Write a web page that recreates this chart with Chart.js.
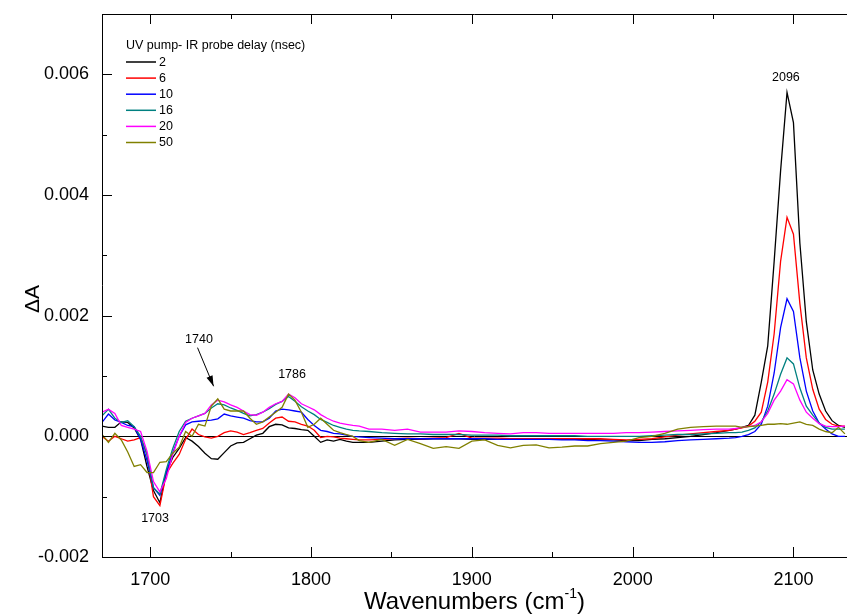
<!DOCTYPE html>
<html>
<head>
<meta charset="utf-8">
<title>UV pump - IR probe spectra</title>
<script src="https://cdn.jsdelivr.net/npm/chart.js@4.4.0/dist/chart.umd.min.js"></script>
<style>
    body { margin: 0; background: #fff; }
    #wrap { width: 847px; height: 615px; position: relative; }
</style>
</head>
<body>
<div id="wrap"><canvas id="spectraChart"></canvas></div>
<script>
// ---------- data ----------
var wavenumbers = [
    1670, 1674, 1678, 1682, 1686, 1690, 1694, 1698, 1702, 1706, 1710, 1714, 1718, 1722,
    1726, 1730, 1734, 1738, 1742, 1746, 1750, 1754, 1758, 1762, 1766, 1770, 1774, 1778,
    1782, 1786, 1790, 1794, 1798, 1802, 1806, 1810, 1814, 1818, 1822, 1826, 1830,
    1836, 1844, 1852, 1860, 1868, 1876, 1884, 1892, 1900, 1908, 1916, 1924, 1932, 1940,
    1948, 1956, 1964, 1972, 1980, 1988, 1996, 2004, 2012, 2020, 2028, 2036, 2044, 2052, 2060,
    2064, 2068, 2072, 2076, 2080, 2084, 2088, 2092, 2096, 2100, 2104, 2108, 2112, 2116,
    2120, 2124, 2128, 2132
];

var delays = ['2', '6', '10', '16', '20', '50'];

var dA_2ns = [
    0.00017, 0.00015, 0.00015, 0.00024, 0.00023, 0.00014, -0.00005, -0.0005, -0.0009, -0.0011, -0.0006, -0.00035, -0.0002, -0.00002,
    -0.00008, -0.00017, -0.00028, -0.00037, -0.00038, -0.00027, -0.00016, -0.00011, -0.0001, -0.00004, 0.00002, 0.00005, 0.00016, 0.0002,
    0.00019, 0.00014, 0.00013, 0.00011, 0.0001, 0.0, -0.0001, -0.00006, -0.00008, -0.00005, -0.00008, -0.0001, -0.0001,
    -0.0001, -0.00008, -0.00006, -0.00005, -0.00005, -0.00004, -0.00004, -0.00004, -0.00005, -0.00005, -0.00005, -0.00005, -0.00005, -0.00005,
    -0.00005, -0.00005, -0.00005, -0.00005, -0.00006, -0.00006, -0.00007, -0.00007, -0.00005, -0.00004, -0.00002, 0.0, 0.00003, 0.00006, 0.0001,
    0.00012, 0.00015, 0.00018, 0.00035, 0.0009, 0.0015, 0.0029, 0.0044, 0.0057, 0.0052, 0.0032, 0.0019, 0.0011, 0.0007,
    0.00042, 0.00026, 0.00018, 0.00015
];

var dA_6ns = [
    0.0, -0.00008, 0.0, -0.00004, -0.00008, -0.00006, -0.00002, -0.0003, -0.001, -0.00115, -0.00062, -0.00045, -0.0003, -0.00005,
    0.00012, 0.00003, -0.00001, -0.00003, 0.0, 0.00006, 0.00009, 0.00007, 0.00003, 0.00006, 0.0001, 0.00013, 0.00022, 0.0003,
    0.00032, 0.00025, 0.00024, 0.0002, 0.00017, 0.0001, -0.00002, 0.0, -0.00001, -0.00003, -0.00004, -0.00005, -0.00006,
    -0.00006, -0.00005, -0.00004, -0.00003, -0.00004, -0.00003, -0.00002, 0.00005, -0.00003, -0.00003, -0.00003, -0.00004, -0.00004, -0.00004,
    -0.00004, -0.00004, -0.00004, -0.00004, -0.00004, -0.00005, -0.00006, -0.00005, -0.00004, -0.00001, 0.00002, 0.00004, 0.00006, 0.00008, 0.0001,
    0.00012, 0.00014, 0.00017, 0.00025, 0.0004, 0.0009, 0.0017, 0.0029, 0.00363, 0.00335, 0.0022, 0.0013, 0.00078, 0.00045,
    0.00028, 0.0002, 0.00017, 0.00017
];

var dA_10ns = [
    0.00023, 0.00037, 0.00027, 0.00023, 0.00018, 0.00016, -0.00005, -0.0004, -0.00085, -0.00098, -0.0006, -0.00027, 0.0, 0.00019,
    0.00024, 0.00025, 0.00026, 0.00027, 0.00029, 0.00037, 0.00034, 0.00032, 0.0003, 0.00026, 0.00024, 0.00024, 0.0003, 0.00042,
    0.00045, 0.00044, 0.00042, 0.0004, 0.00028, 0.00018, 0.0001, 0.00008, 0.00005, 0.00004, 0.00002, 0.0, -0.00001,
    -0.00002, -0.00003, -0.00004, -0.00004, -0.00004, -0.00004, -0.00004, -0.00004, -0.00004, -0.00004, -0.00005, -0.00005, -0.00005, -0.00005,
    -0.00005, -0.00006, -0.00006, -0.00007, -0.00007, -0.00008, -0.00009, -0.0001, -0.0001, -0.00009, -0.00007, -0.00006, -0.00005, -0.00004, -0.00003,
    -0.00002, 0.0, 0.00003, 0.00008, 0.0002, 0.0005, 0.00105, 0.0018, 0.00228, 0.00207, 0.0013, 0.00075, 0.00042, 0.00022,
    0.00012, 0.00004, 0.0, 0.0
];

var dA_16ns = [
    0.00034, 0.00045, 0.0003, 0.00023, 0.00026, 0.00016, 0.0, -0.0003, -0.00085, -0.00096, -0.00055, -0.0002, 0.00008, 0.00025,
    0.0003, 0.00034, 0.00038, 0.00047, 0.00054, 0.00052, 0.00047, 0.00043, 0.00038, 0.00034, 0.00036, 0.0004, 0.00046, 0.00053,
    0.00058, 0.00066, 0.00058, 0.00049, 0.00042, 0.00036, 0.00028, 0.00023, 0.00018, 0.00015, 0.00012, 0.0001, 0.00009,
    0.00008, 0.00006, 0.00005, 0.00004, 0.00004, 0.00003, 0.00003, 0.00003, 0.00002, 0.00002, 0.00002, 0.00001, 0.00001, 0.00001,
    0.00001, 0.00001, 0.00001, 0.0, 0.0, 0.0, 0.0, 0.0, 0.00001, 0.00002, 0.00003, 0.00003, 0.00004, 0.00005, 0.00006,
    0.00006, 0.00007, 0.0001, 0.00014, 0.00024, 0.00042, 0.0007, 0.00103, 0.0013, 0.0012, 0.0008, 0.0005, 0.00035, 0.00022,
    0.00015, 0.00012, 0.00012, 0.00012
];

var dA_20ns = [
    0.0004, 0.00045, 0.00038, 0.00018, 0.00015, 0.00012, 0.00008, -0.00025, -0.00075, -0.00092, -0.0007, -0.0003, 0.0, 0.00023,
    0.0003, 0.00034, 0.00038, 0.00052, 0.0006, 0.00057, 0.00052, 0.00048, 0.00042, 0.00036, 0.00035, 0.0004, 0.00048, 0.00054,
    0.00058, 0.0007, 0.00064, 0.00054, 0.00049, 0.00044, 0.00036, 0.0003, 0.00025, 0.00022, 0.0002, 0.00018, 0.00017,
    0.00012, 0.00012, 0.0001, 0.00012, 0.00007, 0.00007, 0.00007, 0.00009, 0.00008, 0.00006, 0.00005, 0.00004, 0.00006, 0.00006,
    0.00005, 0.00005, 0.00005, 0.00005, 0.00005, 0.00005, 0.00006, 0.00006, 0.00007, 0.00008, 0.00009, 0.0001, 0.00011, 0.00012, 0.00012,
    0.00013, 0.00015, 0.00016, 0.00018, 0.00024, 0.00038, 0.0006, 0.00075, 0.00094, 0.00087, 0.0006, 0.0004, 0.0003, 0.00021,
    0.00017, 0.00016, 0.00016, 0.00017
];

var dA_50ns = [
    0.00003, -0.0001, 0.00005, -0.00006, -0.00026, -0.0005, -0.00047, -0.0006, -0.0006, -0.00043, -0.00042, -0.00028, -0.00018, 0.00008,
    0.0, 0.0002, 0.00017, 0.0005, 0.00062, 0.00045, 0.00042, 0.00042, 0.00042, 0.0003, 0.0002, 0.00024, 0.00032, 0.0004,
    0.00048, 0.0007, 0.0006, 0.0004, 0.00015, 0.0002, 0.0003, 0.0002, 0.0001, 0.00006, 0.00003, 0.0, -0.00007,
    -0.0001, -0.00005, -0.00015, -0.00005, -0.00012, -0.0002, -0.00017, -0.0002, -0.00008, -0.00006, -0.00015, -0.00019, -0.00015, -0.00014,
    -0.00019, -0.00018, -0.00016, -0.00016, -0.00012, -0.0001, -0.00008, -0.00002, 0.0, 0.00005, 0.00012, 0.00015, 0.00016, 0.00017, 0.00017,
    0.00017, 0.00015, 0.00016, 0.00017, 0.00018, 0.0002, 0.0002, 0.00021, 0.0002, 0.00022, 0.00024, 0.0002, 0.00018, 0.00012,
    0.00008, 0.00006, 0.00015, 0.00004
];

var xMajorTicks = [1700, 1800, 1900, 2000, 2100];
var xMinorTicks = [1750, 1850, 1950, 2050];
var yMajorTicks = [-0.002, 0.000, 0.002, 0.004, 0.006];
var yMinorTicks = [-0.001, 0.001, 0.003, 0.005];

var peakLabels = ['1703', '1740', '1786', '2096'];

// ---------- styling ----------
var lineColors = ['#000000', '#ff0000', '#0000ff', '#008080', '#ff00ff', '#808000'];
var FONT = '"Liberation Sans", Arial, Helvetica, sans-serif';

var series = [dA_2ns, dA_6ns, dA_10ns, dA_16ns, dA_20ns, dA_50ns];

function toPoints(values) {
    return wavenumbers.map(function(w, i) { return { x: w, y: values[i] }; });
}

var datasets = series.map(function(values, i) {
    return {
        label: delays[i],
        data: toPoints(values),
        borderColor: lineColors[i],
        borderWidth: 1.3,
        pointRadius: 0,
        tension: 0,
        fill: false,
        order: series.length - i   // later delays drawn on top
    };
});

function hline(ctx, x1, x2, y) {
    y = Math.round(y) + 0.5;
    ctx.beginPath(); ctx.moveTo(x1, y); ctx.lineTo(x2, y); ctx.stroke();
}
function vline(ctx, x, y1, y2) {
    x = Math.round(x) + 0.5;
    ctx.beginPath(); ctx.moveTo(x, y1); ctx.lineTo(x, y2); ctx.stroke();
}

// zero line under the spectra
var zeroLine = {
    id: 'zeroLine',
    beforeDatasetsDraw: function(chart) {
        var ctx = chart.ctx, a = chart.chartArea;
        ctx.save();
        ctx.strokeStyle = '#000';
        ctx.lineWidth = 1;
        hline(ctx, a.left, a.right, chart.scales.y.getPixelForValue(0));
        ctx.restore();
    }
};

// frame, inward ticks, labels, legend and peak notes
var frameAndText = {
    id: 'frameAndText',
    afterDraw: function(chart) {
        var ctx = chart.ctx, a = chart.chartArea;
        var xs = chart.scales.x, ys = chart.scales.y;
        ctx.save();
        ctx.strokeStyle = '#000';
        ctx.fillStyle = '#000';
        ctx.lineWidth = 1;

        vline(ctx, a.left, a.top, a.bottom + 0.5);
        hline(ctx, a.left, a.right, a.bottom);
        hline(ctx, a.left, a.right, a.top);

        // x ticks (bottom and top)
        ctx.font = '18px ' + FONT;
        ctx.textAlign = 'center';
        ctx.textBaseline = 'middle';
        xMajorTicks.forEach(function(v) {
            var px = xs.getPixelForValue(v);
            vline(ctx, px, a.bottom, a.bottom - 10);
            vline(ctx, px, a.top, a.top + 10);
            ctx.fillText(String(v), px, a.bottom + 23);
        });
        xMinorTicks.forEach(function(v) {
            var px = xs.getPixelForValue(v);
            vline(ctx, px, a.bottom, a.bottom - 5);
            vline(ctx, px, a.top, a.top + 5);
        });

        // y ticks
        ctx.textAlign = 'right';
        yMajorTicks.forEach(function(v) {
            var py = ys.getPixelForValue(v);
            hline(ctx, a.left, a.left + 10, py);
            ctx.fillText(v.toFixed(3), a.left - 13, py);
        });
        yMinorTicks.forEach(function(v) {
            hline(ctx, a.left, a.left + 5, ys.getPixelForValue(v));
        });

        // x axis title with superscript
        var cx = (a.left + a.right) / 2;
        var base = 609;
        ctx.textBaseline = 'alphabetic';
        ctx.textAlign = 'left';
        ctx.font = '24px ' + FONT;
        var t1 = 'Wavenumbers (cm', t3 = ')';
        var w1 = ctx.measureText(t1).width, w3 = ctx.measureText(t3).width;
        ctx.font = '14px ' + FONT;
        var t2 = '-1', w2 = ctx.measureText(t2).width;
        var start = cx - (w1 + w2 + w3) / 2;
        ctx.font = '24px ' + FONT;
        ctx.fillText(t1, start, base);
        ctx.font = '14px ' + FONT;
        ctx.fillText(t2, start + w1, base - 11);
        ctx.font = '24px ' + FONT;
        ctx.fillText(t3, start + w1 + w2, base);

        // y axis title
        ctx.save();
        ctx.translate(33, 299);
        ctx.rotate(-Math.PI / 2);
        ctx.textAlign = 'center';
        ctx.textBaseline = 'middle';
        ctx.font = '21px ' + FONT;
        ctx.fillText('\u0394A', 0, 0);
        ctx.restore();

        // legend
        ctx.font = '12.5px ' + FONT;
        ctx.textAlign = 'left';
        ctx.textBaseline = 'middle';
        ctx.fillText('UV pump- IR probe delay (nsec)', 126, 46);
        chart.data.datasets.forEach(function(ds, i) {
            var ly = 62 + i * 16.1;
            ctx.strokeStyle = ds.borderColor;
            ctx.lineWidth = 1.5;
            ctx.beginPath(); ctx.moveTo(126, ly); ctx.lineTo(156, ly); ctx.stroke();
            ctx.fillText(ds.label, 159, ly + 0.5);
        });

        // peak notes
        ctx.strokeStyle = '#000';
        ctx.lineWidth = 1;
        ctx.textAlign = 'center';
        var notePos = [[1703, -0.00137], [1730.3, 0.0016], [1788.2, 0.00102], [2095.3, 0.00594]];
        peakLabels.forEach(function(txt, i) {
            ctx.fillText(txt, xs.getPixelForValue(notePos[i][0]), ys.getPixelForValue(notePos[i][1]));
        });

        // arrow to 1740
        var ax1 = xs.getPixelForValue(1729.4), ay1 = ys.getPixelForValue(0.00147);
        var ax2 = xs.getPixelForValue(1739.4), ay2 = ys.getPixelForValue(0.00083);
        ctx.beginPath(); ctx.moveTo(ax1, ay1); ctx.lineTo(ax2, ay2); ctx.stroke();
        var ang = Math.atan2(ay2 - ay1, ax2 - ax1);
        ctx.beginPath();
        ctx.moveTo(ax2, ay2);
        ctx.lineTo(ax2 - 11 * Math.cos(ang - 0.3), ay2 - 11 * Math.sin(ang - 0.3));
        ctx.lineTo(ax2 - 11 * Math.cos(ang + 0.3), ay2 - 11 * Math.sin(ang + 0.3));
        ctx.closePath();
        ctx.fill();

        ctx.restore();
    }
};

var ctxSpectra = document.getElementById('spectraChart').getContext('2d');
window.spectraChart = new Chart(ctxSpectra, {
    type: 'line',
    data: { datasets: datasets },
    options: {
        responsive: true,
        maintainAspectRatio: false,
        animation: false,
        layout: { padding: { top: 14, right: 0, left: 0, bottom: 0 } },
        plugins: {
            legend: { display: false },
            tooltip: { enabled: false },
            title: { display: false }
        },
        scales: {
            x: {
                type: 'linear',
                min: 1670,
                max: 2133.3,
                ticks: { display: false },
                grid: { display: false },
                border: { display: false },
                afterFit: function(scale) { scale.height = 58; }
            },
            y: {
                type: 'linear',
                min: -0.002,
                max: 0.007,
                ticks: { display: false },
                grid: { display: false },
                border: { display: false },
                afterFit: function(scale) { scale.width = 102; }
            }
        }
    },
    plugins: [zeroLine, frameAndText]
});
</script>
</body>
</html>
